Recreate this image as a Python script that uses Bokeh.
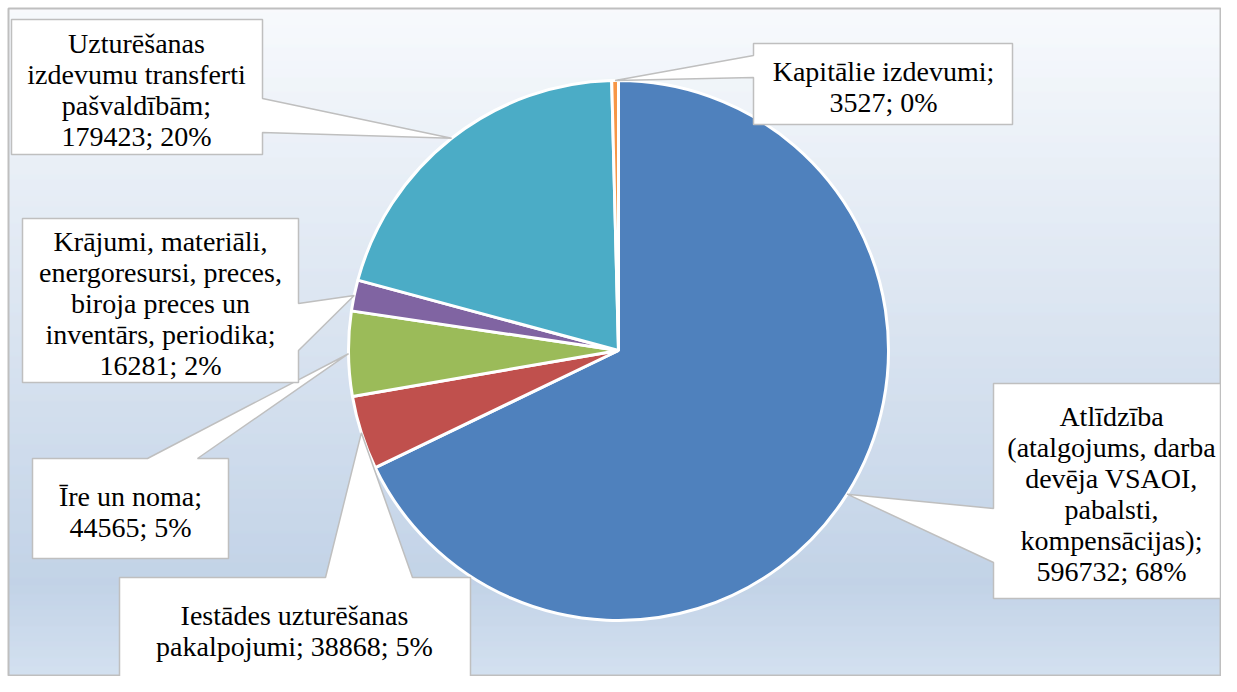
import numpy as np
from bokeh.plotting import figure
from bokeh.models import Range1d, ColumnDataSource
from bokeh.embed import file_html
from bokeh.resources import INLINE
from bokeh.core.properties import value

# ---------------- data ----------------
categories = [
    "Atlīdzība (atalgojums, darba devēja VSAOI, pabalsti, kompensācijas)",
    "Iestādes uzturēšanas pakalpojumi",
    "Īre un noma",
    "Krājumi, materiāli, energoresursi, preces, biroja preces un inventārs, periodika",
    "Uzturēšanas izdevumu transferti pašvaldībām",
    "Kapitālie izdevumi",
]
values = [596732, 38868, 44565, 16281, 179423, 3527]
percents = [68, 5, 5, 2, 20, 0]
# wrapped label names as shown in the chart
label_names = [
    "Atlīdzība\n(atalgojums, darba\ndevēja VSAOI,\npabalsti,\nkompensācijas)",
    "Iestādes uzturēšanas\npakalpojumi",
    "Īre un noma",
    "Krājumi, materiāli,\nenergoresursi, preces,\nbiroja preces un\ninventārs, periodika",
    "Uzturēšanas\nizdevumu transferti\npašvaldībām",
    "Kapitālie izdevumi",
]
label_seps = [";\n", "; ", ";\n", ";\n", ";\n", ";\n"]
colors = ["#4F81BD", "#C0504D", "#9BBB59", "#8064A2", "#4BACC6", "#F79646"]

# ---------------- layout (reference pixel coordinates) ----------------
W, H = 1221, 676
def P(px, py):
    return px, H - py

CX, CY = P(618, 350)
R = 270
FX0, FY0, FX1, FY1 = 8, 8, 1220, 675   # chart frame (page px)

# callout boxes: x0, y0, x1, y1, side, base a, base b
callouts = [
    (993, 383, 1220, 598, "left", 508, 562),
    (119, 577, 470, 677, "top", 325, 412),
    (32, 458, 228, 558, "top", 147, 197),
    (22, 218, 298, 382, "right", 303, 350),
    (11, 19, 262, 154, "right", 98, 132),
    (753, 43, 1012, 124, "left", 55, 77),
]
text_centers_x = [1111, 294, 130, 160, 136, 883]

# ---------------- figure ----------------
p = figure(width=W, height=H, x_range=Range1d(0, W), y_range=Range1d(0, H),
           output_backend="svg", toolbar_location=None, min_border=0,
           x_axis_type=None, y_axis_type=None)
p.grid.visible = False
p.background_fill_color = "white"
p.border_fill_color = "white"
p.outline_line_color = None

# background gradient (decoration)
stops = [(0.0, (245, 248, 252)), (0.85, (174, 196, 223)), (1.0, (199, 216, 236))]
def grad(t):
    for (t0, c0), (t1, c1) in zip(stops[:-1], stops[1:]):
        if t <= t1:
            f = (t - t0) / (t1 - t0)
            return "#%02x%02x%02x" % tuple(int(round(a + (b - a) * f)) for a, b in zip(c0, c1))
    return "#%02x%02x%02x" % stops[-1][1]
rows_px = np.arange(FY0, FY1)
gcols = [grad((py + 0.5 - 8) / 676.0) for py in rows_px]
p.quad(left=FX0, right=FX1, top=H - rows_px, bottom=H - rows_px - 1, fill_color=gcols, line_color=None)
p.quad(left=FX0, right=FX1, top=H - FY0, bottom=H - FY1, fill_color=None,
       line_color="#BFBFBF", line_width=2)

# pie
vals = np.array(values, dtype=float)
frac = vals / vals.sum()
cum = np.concatenate([[0], np.cumsum(frac)])
start = np.pi / 2 - 2 * np.pi * cum[:-1]
end = np.pi / 2 - 2 * np.pi * cum[1:]
src = ColumnDataSource(dict(start=start, end=end, color=colors, cat=categories, val=values))
p.wedge(x=CX, y=CY, radius=R, start_angle="start", end_angle="end", direction="clock",
        fill_color="color", line_color="white", line_width=3, source=src)

# callouts
mid = (start + end) / 2
xs, ys, tx, ty, texts = [], [], [], [], []
for i, (x0, y0, x1, y1, side, a, b) in enumerate(callouts):
    tipx = CX + R * np.cos(mid[i])
    tipy = CY + R * np.sin(mid[i])
    tip_px = (tipx, H - tipy)
    if side == "top":
        pts = [(x0, y0), (a, y0), tip_px, (b, y0), (x1, y0), (x1, y1), (x0, y1)]
    elif side == "right":
        pts = [(x0, y0), (x1, y0), (x1, a), tip_px, (x1, b), (x1, y1), (x0, y1)]
    else:
        pts = [(x0, y0), (x1, y0), (x1, y1), (x0, y1), (x0, b), tip_px, (x0, a)]
    dp = [P(*q) for q in pts]
    xs.append([q[0] for q in dp])
    ys.append([q[1] for q in dp])
    cx, cy = P(text_centers_x[i], (y0 + min(y1, 677)) / 2 + 3)
    tx.append(cx)
    ty.append(cy)
    texts.append(f"{label_names[i]}{label_seps[i]}{values[i]}; {percents[i]}%")

p.patches(xs, ys, fill_color="white", line_color="#BFBFBF", line_width=1.5)
p.text(x=tx, y=ty, text=texts,
       text_font=value("'Times New Roman', 'Liberation Serif', serif"),
       text_font_size="28px", text_align="center", text_baseline="middle",
       text_line_height=1.0, text_color="black")

open("out.html", "w").write(file_html(p, INLINE))
